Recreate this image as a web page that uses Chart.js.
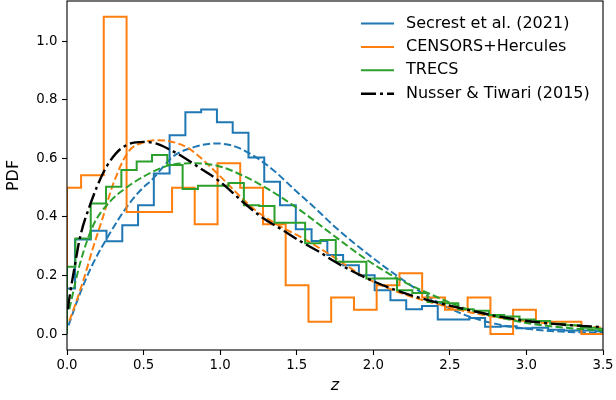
<!DOCTYPE html>
<html>
<head>
<meta charset="utf-8">
<script src="https://cdn.jsdelivr.net/npm/chart.js@4/dist/chart.umd.min.js"></script>
<style>
  html, body { margin: 0; padding: 0; background: #ffffff; }
  #wrap { width: 616px; height: 400px; }
</style>
</head>
<body>
<div id="wrap"><canvas id="c" width="616" height="400"></canvas></div>
<script>
// ---- Redshift distributions: histograms (step) and fitted PDFs (dashed) ----

// Secrest et al. (2021) histogram
const secrestEdges = [0, 0.052, 0.155, 0.258, 0.361, 0.464, 0.567, 0.670, 0.773, 0.876, 0.979,
  1.082, 1.185, 1.288, 1.391, 1.494, 1.597, 1.700, 1.803, 1.906, 2.009, 2.112, 2.215, 2.318,
  2.421, 2.524, 2.627, 2.730, 2.833, 2.936, 3.039, 3.142, 3.245, 3.348, 3.451, 3.5];
const secrestPdf = [0.156, 0.323, 0.353, 0.317, 0.372, 0.440, 0.548, 0.679, 0.757, 0.767,
  0.723, 0.687, 0.603, 0.520, 0.440, 0.358, 0.318, 0.270, 0.235, 0.201, 0.150, 0.116, 0.085,
  0.096, 0.050, 0.050, 0.055, 0.025, 0.027, 0.020, 0.022, 0.015, 0.012, 0.012, 0.010];

// CENSORS+Hercules histogram
const censorsEdges = [0, 0.092, 0.240, 0.389, 0.537, 0.686, 0.834, 0.983, 1.131, 1.280, 1.428,
  1.577, 1.725, 1.874, 2.022, 2.171, 2.319, 2.468, 2.616, 2.765, 2.913, 3.062, 3.210, 3.359, 3.5];
const censorsPdf = [0.500, 0.542, 1.083, 0.417, 0.417, 0.500, 0.375, 0.583, 0.500, 0.375,
  0.167, 0.042, 0.125, 0.083, 0.167, 0.208, 0.125, 0.083, 0.125, 0.0, 0.083, 0.042, 0.042, 0.0];

// TRECS histogram
const trecsEdges = [0, 0.055, 0.155, 0.255, 0.355, 0.455, 0.555, 0.655, 0.755, 0.855, 0.955,
  1.055, 1.155, 1.255, 1.355, 1.455, 1.555, 1.655, 1.755, 1.855, 1.955, 2.055, 2.155, 2.255,
  2.355, 2.455, 2.555, 2.655, 2.755, 2.855, 2.955, 3.055, 3.155, 3.255, 3.355, 3.455, 3.5];
const trecsPdf = [0.230, 0.326, 0.446, 0.503, 0.560, 0.589, 0.611, 0.577, 0.495, 0.506, 0.506,
  0.516, 0.440, 0.437, 0.380, 0.380, 0.310, 0.321, 0.247, 0.247, 0.190, 0.190, 0.150, 0.140,
  0.110, 0.105, 0.085, 0.080, 0.065, 0.060, 0.050, 0.045, 0.035, 0.030, 0.022, 0.018];

// Fitted PDFs
const secrestFitZ = [0.01, 0.085, 0.17, 0.28, 0.39, 0.48, 0.56, 0.69, 0.84, 0.97, 1.10, 1.23,
  1.36, 1.49, 1.62, 1.75, 1.96, 2.18, 2.40, 2.60, 2.80, 3.0, 3.25, 3.5];
const secrestFitPdf = [0.030, 0.139, 0.241, 0.344, 0.434, 0.491, 0.530, 0.605, 0.640, 0.651,
  0.640, 0.605, 0.554, 0.491, 0.430, 0.366, 0.275, 0.190, 0.115, 0.065, 0.035, 0.018, 0.008, 0.004];

const censorsFitZ = [0.015, 0.05, 0.107, 0.172, 0.235, 0.30, 0.40, 0.51, 0.60, 0.69, 0.80, 0.97,
  1.10, 1.23, 1.38, 1.53, 1.67, 1.75, 1.96, 2.18, 2.40, 2.60, 2.80, 3.0, 3.25, 3.5];
const censorsFitPdf = [0.045, 0.095, 0.184, 0.298, 0.400, 0.510, 0.622, 0.656, 0.662, 0.656,
  0.632, 0.554, 0.486, 0.423, 0.372, 0.330, 0.287, 0.260, 0.190, 0.140, 0.105, 0.078, 0.058,
  0.044, 0.032, 0.022];

const trecsFitZ = [0.015, 0.085, 0.17, 0.28, 0.37, 0.50, 0.66, 0.80, 0.98, 1.18, 1.36, 1.53,
  1.72, 1.96, 2.18, 2.40, 2.60, 2.80, 3.0, 3.25, 3.5];
const trecsFitPdf = [0.085, 0.241, 0.370, 0.452, 0.493, 0.538, 0.575, 0.583, 0.575, 0.533,
  0.480, 0.420, 0.345, 0.253, 0.184, 0.130, 0.088, 0.060, 0.038, 0.022, 0.012];

// Nusser & Tiwari (2015)
const nusserZ = [0.005, 0.02, 0.05, 0.085, 0.15, 0.24, 0.32, 0.40, 0.50, 0.58, 0.67, 0.75, 0.85,
  1.0, 1.14, 1.27, 1.40, 1.53, 1.65, 1.75, 1.96, 2.18, 2.40, 2.60, 2.80, 3.0, 3.25, 3.5];
const nusserPdf = [0.085, 0.139, 0.230, 0.330, 0.440, 0.554, 0.617, 0.648, 0.656, 0.651, 0.630,
  0.607, 0.573, 0.520, 0.455, 0.400, 0.358, 0.315, 0.280, 0.247, 0.190, 0.144, 0.110, 0.085,
  0.062, 0.045, 0.032, 0.024];

// Axis ticks
const xTicks = [0.0, 0.5, 1.0, 1.5, 2.0, 2.5, 3.0, 3.5];
const yTicks = [0.0, 0.2, 0.4, 0.6, 0.8, 1.0];

const BLUE = '#1f77b4', ORANGE = '#ff7f0e', GREEN = '#2ca02c', BLACK = '#000000';
const DASHED = [7.4, 3.2];
const DASHDOT = [15, 4, 3, 4];

function stepPoints(edges, values) {
  const pts = [{ x: edges[0], y: 0 }];
  values.forEach((v, i) => pts.push({ x: edges[i], y: v }));
  pts.push({ x: edges[edges.length - 1], y: values[values.length - 1] });
  return pts;
}
function curvePoints(zs, ps) {
  return zs.map((z, i) => ({ x: z, y: ps[i] }));
}

const histStyle = (color) => ({
  borderColor: color, borderWidth: 2, pointRadius: 0, stepped: 'before',
  fill: false, tension: 0
});
const fitStyle = (color) => ({
  borderColor: color, borderWidth: 2, pointRadius: 0, borderDash: DASHED,
  fill: false, cubicInterpolationMode: 'monotone'
});

const datasets = [
  Object.assign({ label: 'Secrest et al. (2021)', data: stepPoints(secrestEdges, secrestPdf), order: 7 }, histStyle(BLUE)),
  Object.assign({ label: 'Secrest fit', data: curvePoints(secrestFitZ, secrestFitPdf), order: 6 }, fitStyle(BLUE)),
  Object.assign({ label: 'CENSORS+Hercules', data: stepPoints(censorsEdges, censorsPdf), order: 5 }, histStyle(ORANGE)),
  Object.assign({ label: 'CENSORS fit', data: curvePoints(censorsFitZ, censorsFitPdf), order: 4 }, fitStyle(ORANGE)),
  Object.assign({ label: 'TRECS', data: stepPoints(trecsEdges, trecsPdf), order: 3 }, histStyle(GREEN)),
  Object.assign({ label: 'TRECS fit', data: curvePoints(trecsFitZ, trecsFitPdf), order: 2 }, fitStyle(GREEN)),
  {
    label: 'Nusser & Tiwari (2015)', data: curvePoints(nusserZ, nusserPdf), order: 1,
    borderColor: BLACK, borderWidth: 2.4, pointRadius: 0, borderDash: DASHDOT,
    fill: false, cubicInterpolationMode: 'monotone'
  }
];

const legendEntries = [
  { label: 'Secrest et al. (2021)', color: BLUE, width: 2, dash: [] },
  { label: 'CENSORS+Hercules', color: ORANGE, width: 2, dash: [] },
  { label: 'TRECS', color: GREEN, width: 2, dash: [] },
  { label: 'Nusser & Tiwari (2015)', color: BLACK, width: 2.4, dash: DASHDOT }
];

// Full axes frame drawn above the data, plus the line legend in the upper right
const framePlugin = {
  id: 'frame',
  afterDatasetsDraw(chart) {
    const { ctx, chartArea: a } = chart;
    ctx.save();
    ctx.strokeStyle = '#000';
    ctx.lineWidth = 1.1;
    ctx.setLineDash([]);
    ctx.strokeRect(a.left, a.top, a.right - a.left, a.bottom - a.top);
    ctx.restore();
  }
};
const legendPlugin = {
  id: 'lineLegend',
  afterDraw(chart) {
    const { ctx, chartArea: a } = chart;
    const x0 = a.right - 242, x1 = a.right - 209, tx = a.right - 197;
    ctx.save();
    ctx.font = '16px "DejaVu Sans"';
    ctx.textBaseline = 'middle';
    ctx.textAlign = 'left';
    legendEntries.forEach((e, i) => {
      const y = a.top + 22.5 + i * 23.4;
      ctx.strokeStyle = e.color;
      ctx.lineWidth = e.width;
      ctx.setLineDash(e.dash);
      ctx.beginPath();
      ctx.moveTo(x0, y);
      ctx.lineTo(x1, y);
      ctx.stroke();
      ctx.setLineDash([]);
      ctx.fillStyle = '#000';
      ctx.fillText(e.label, tx, y);
    });
    ctx.restore();
  }
};

Chart.defaults.font.family = '"DejaVu Sans", sans-serif';
Chart.defaults.color = '#000';

new Chart(document.getElementById('c'), {
  type: 'line',
  data: { datasets },
  options: {
    responsive: false,
    animation: false,
    devicePixelRatio: 1,
    layout: { padding: { top: 1, right: 13, bottom: 0, left: 0 } },
    plugins: { legend: { display: false }, tooltip: { enabled: false } },
    scales: {
      x: {
        type: 'linear', min: 0, max: 3.5,
        afterBuildTicks: (s) => { s.ticks = xTicks.map(v => ({ value: v })); },
        afterFit: (s) => { s.height = 50; s.paddingLeft = 0; s.paddingRight = 0; },
        ticks: { autoSkip: false, maxRotation: 0, font: { size: 13.3 }, padding: 3,
                 callback: (v) => Number(v).toFixed(1) },
        grid: { drawOnChartArea: false, drawTicks: true, tickLength: 5, tickWidth: 1.1, tickColor: '#000' },
        border: { display: false },
        title: { display: true, text: 'z', font: { size: 16, style: 'italic' }, padding: { top: 0, bottom: 5 } }
      },
      y: {
        type: 'linear', min: -0.0542, max: 1.137,
        afterBuildTicks: (s) => { s.ticks = yTicks.map(v => ({ value: v })); },
        afterFit: (s) => { s.width = 67; s.paddingTop = 0; s.paddingBottom = 0; },
        ticks: { autoSkip: false, font: { size: 13.3 }, padding: 4.5,
                 callback: (v) => Number(v).toFixed(1) },
        grid: { drawOnChartArea: false, drawTicks: true, tickLength: 5, tickWidth: 1.1, tickColor: '#000' },
        border: { display: false },
        title: { display: true, text: 'PDF', font: { size: 16 }, padding: { top: 4, bottom: 0 } }
      }
    }
  },
  plugins: [framePlugin, legendPlugin]
});
</script>
</body>
</html>
